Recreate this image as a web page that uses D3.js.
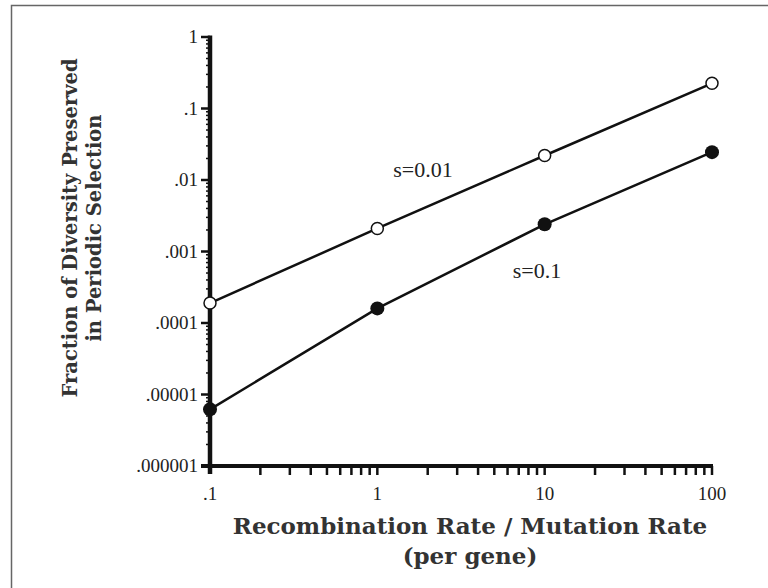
<!DOCTYPE html>
<html>
<head>
<meta charset="utf-8">
<script src="https://cdn.jsdelivr.net/npm/d3@7"></script>
<style>
  body { margin: 0; background: #fff; }
  text { font-family: "Liberation Serif", "DejaVu Serif", serif; fill: #222; }
  .title { font-family: "DejaVu Serif", serif; font-weight: bold; fill: #333; }
</style>
</head>
<body>
<div id="chart"></div>
<script>
const xValues = [0.1, 1, 10, 100];
const sLow = [0.00019, 0.0021, 0.022, 0.225];      // s=0.01, open circles
const sHigh = [0.0000062, 0.00016, 0.0024, 0.0245]; // s=0.1, filled circles
const xTicks = [0.1, 1, 10, 100];
const xTickLabels = ['.1', '1', '10', '100'];
const yTicks = [1, 0.1, 0.01, 0.001, 0.0001, 0.00001, 0.000001];
const yTickLabels = ['1', '.1', '.01', '.001', '.0001', '.00001', '.000001'];

const width = 768;
const height = 588;
const margin = { top: 37, right: 56, bottom: 122, left: 210 };

const svg = d3.select('#chart')
  .append('svg')
  .attr('width', width)
  .attr('height', height);

// frame
svg.append('path')
  .attr('d', `M11.5,${height} V5.5 H${width}`)
  .attr('fill', 'none')
  .attr('stroke', '#666')
  .attr('stroke-width', 1.5);

const xScale = d3.scaleLog()
  .domain([0.1, 100])
  .range([margin.left, width - margin.right]);

const yScale = d3.scaleLog()
  .domain([0.000001, 1])
  .range([height - margin.bottom, margin.top]);

// minor ticks
const xMinor = [];
[0.1, 1, 10].forEach(d => { for (let k = 2; k <= 9; k++) xMinor.push(d * k); });
const yMinor = [];
[0.000001, 0.00001, 0.0001, 0.001, 0.01, 0.1].forEach(d => { for (let k = 2; k <= 9; k++) yMinor.push(d * k); });

const x0 = xScale(0.1);
const y0 = yScale(0.000001);

svg.append('g')
  .selectAll('line')
  .data(xMinor.concat([1, 10, 100]))
  .join('line')
  .attr('x1', d => xScale(d))
  .attr('x2', d => xScale(d))
  .attr('y1', y0)
  .attr('y2', y0 + 9)
  .attr('stroke', '#111')
  .attr('stroke-width', 2.5);

svg.append('g')
  .selectAll('line')
  .data(yMinor)
  .join('line')
  .attr('x1', x0 - 4)
  .attr('x2', x0)
  .attr('y1', d => yScale(d))
  .attr('y2', d => yScale(d))
  .attr('stroke', '#111')
  .attr('stroke-width', 1.5);

svg.append('g')
  .selectAll('line')
  .data(yTicks)
  .join('line')
  .attr('x1', x0 - 9)
  .attr('x2', x0)
  .attr('y1', d => yScale(d))
  .attr('y2', d => yScale(d))
  .attr('stroke', '#111')
  .attr('stroke-width', 2.5);

// axis lines
svg.append('line')
  .attr('x1', x0).attr('x2', x0)
  .attr('y1', yScale(1) - 1.5).attr('y2', y0 + 8)
  .attr('stroke', '#111').attr('stroke-width', 4.5);

svg.append('line')
  .attr('x1', x0 - 9).attr('x2', xScale(100) + 1)
  .attr('y1', y0).attr('y2', y0)
  .attr('stroke', '#111').attr('stroke-width', 4);

// tick labels
svg.append('g')
  .selectAll('text')
  .data(xTicks)
  .join('text')
  .attr('x', d => xScale(d))
  .attr('y', y0 + 34)
  .attr('text-anchor', 'middle')
  .style('font-size', '19px')
  .text((d, i) => xTickLabels[i]);

svg.append('g')
  .selectAll('text')
  .data(yTicks)
  .join('text')
  .attr('x', x0 - 12)
  .attr('y', d => yScale(d) + 6)
  .attr('text-anchor', 'end')
  .style('font-size', '19px')
  .text((d, i) => yTickLabels[i]);

// series
const line = d3.line()
  .x((d, i) => xScale(xValues[i]))
  .y(d => yScale(d));

svg.append('path')
  .datum(sLow)
  .attr('d', line)
  .attr('fill', 'none')
  .attr('stroke', '#111')
  .attr('stroke-width', 2.5);

svg.append('path')
  .datum(sHigh)
  .attr('d', line)
  .attr('fill', 'none')
  .attr('stroke', '#111')
  .attr('stroke-width', 2.5);

svg.append('g')
  .selectAll('circle')
  .data(sLow)
  .join('circle')
  .attr('cx', (d, i) => xScale(xValues[i]))
  .attr('cy', d => yScale(d))
  .attr('r', 6)
  .attr('fill', '#fff')
  .attr('stroke', '#111')
  .attr('stroke-width', 1.5);

svg.append('g')
  .selectAll('circle')
  .data(sHigh)
  .join('circle')
  .attr('cx', (d, i) => xScale(xValues[i]))
  .attr('cy', d => yScale(d))
  .attr('r', 7)
  .attr('fill', '#111');

// series labels
svg.append('text')
  .attr('x', 423)
  .attr('y', 177)
  .attr('text-anchor', 'middle')
  .style('font-size', '22px')
  .text('s=0.01');

svg.append('text')
  .attr('x', 537)
  .attr('y', 278)
  .attr('text-anchor', 'middle')
  .style('font-size', '22px')
  .text('s=0.1');

// axis titles
svg.append('text')
  .attr('class', 'title')
  .attr('x', 470)
  .attr('y', 534)
  .attr('text-anchor', 'middle')
  .style('font-size', '23px')
  .text('Recombination Rate / Mutation Rate');

svg.append('text')
  .attr('class', 'title')
  .attr('x', 470)
  .attr('y', 564)
  .attr('text-anchor', 'middle')
  .style('font-size', '23px')
  .text('(per gene)');

svg.append('text')
  .attr('class', 'title')
  .attr('transform', 'rotate(-90)')
  .attr('x', -228)
  .attr('y', 77)
  .attr('text-anchor', 'middle')
  .style('font-size', '19.5px')
  .text('Fraction of Diversity Preserved');

svg.append('text')
  .attr('class', 'title')
  .attr('transform', 'rotate(-90)')
  .attr('x', -228)
  .attr('y', 101)
  .attr('text-anchor', 'middle')
  .style('font-size', '19.5px')
  .text('in Periodic Selection');
</script>
</body>
</html>
